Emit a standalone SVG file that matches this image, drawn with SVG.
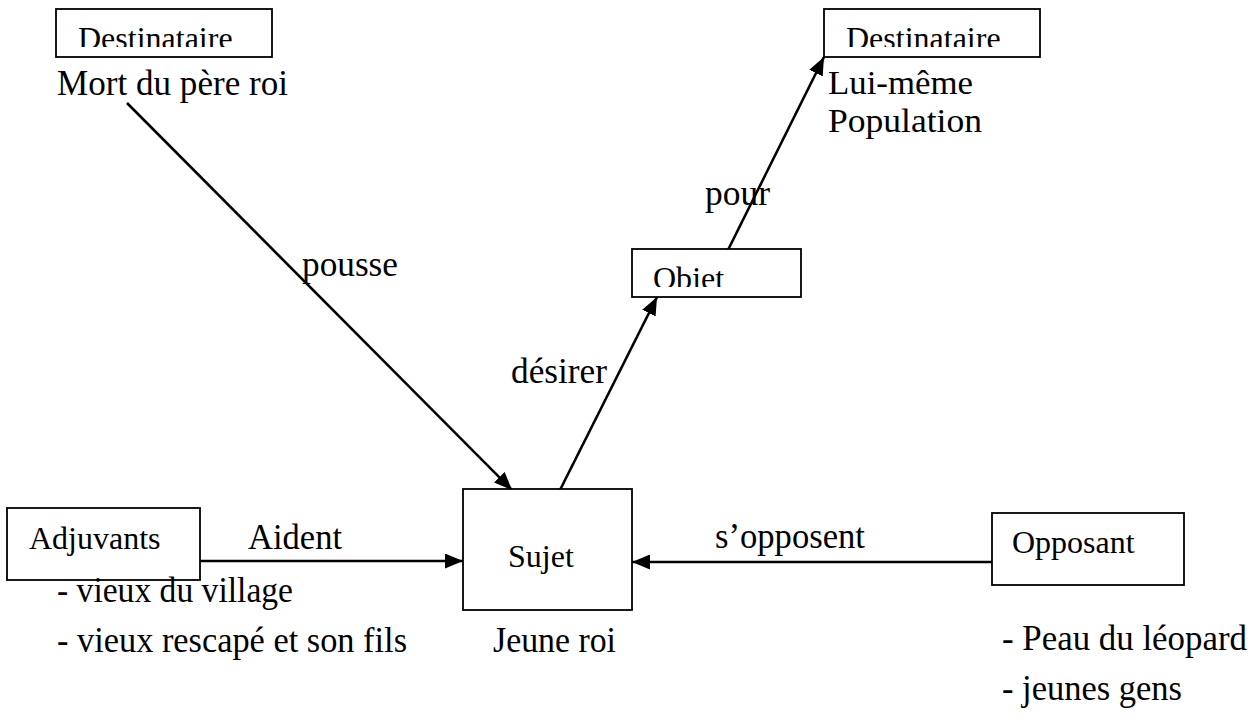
<svg xmlns="http://www.w3.org/2000/svg" width="1258" height="720" viewBox="0 0 1258 720">
<style>
.box{fill:#fff;stroke:#000;stroke-width:1.8}
.lbl{font-family:"Liberation Serif","Times New Roman",serif;font-size:32px;fill:#000}
.txt{font-family:"Liberation Serif","Times New Roman",serif;font-size:36px;fill:#000}
.tight{font-size:33px}
.con{stroke:#000;stroke-width:2.6;fill:none}
</style>
<defs>
<marker id="ah" markerUnits="userSpaceOnUse" markerWidth="19" markerHeight="15" refX="18" refY="7.5" orient="auto">
<path d="M0,0 L18,7.5 L0,15 z" fill="#000"/>
</marker>
<clipPath id="c1"><rect x="56" y="9" width="216" height="38"/></clipPath>
<clipPath id="c2"><rect x="824" y="9" width="216" height="38"/></clipPath>
<clipPath id="c3"><rect x="632" y="249" width="169" height="38"/></clipPath>
</defs>
<rect width="1258" height="720" fill="#fff"/>
<g id="connectors">
<line class="con" x1="127" y1="103" x2="512" y2="490" marker-end="url(#ah)"/>
<line class="con" x1="560" y1="490" x2="657" y2="297" marker-end="url(#ah)"/>
<line class="con" x1="728" y1="250" x2="824" y2="57" marker-end="url(#ah)"/>
<line class="con" x1="200" y1="561" x2="463" y2="561" marker-end="url(#ah)"/>
<line class="con" x1="992" y1="562" x2="632" y2="562" marker-end="url(#ah)"/>
<text class="txt" x="302" y="276" textLength="96" lengthAdjust="spacingAndGlyphs">pousse</text>
<text class="txt" x="511" y="383" textLength="96" lengthAdjust="spacingAndGlyphs">désirer</text>
<text class="txt" x="705" y="205" textLength="65" lengthAdjust="spacingAndGlyphs">pour</text>
<text class="txt" x="248" y="549" textLength="94" lengthAdjust="spacingAndGlyphs">Aident</text>
<text class="txt" x="715" y="548" textLength="150" lengthAdjust="spacingAndGlyphs">s’opposent</text>
</g>
<g id="destinataire1">
<rect class="box" x="56" y="9" width="216" height="48"/>
<text class="lbl" x="78" y="49" clip-path="url(#c1)">Destinataire</text>
<text class="txt" x="57" y="95" textLength="231" lengthAdjust="spacingAndGlyphs">Mort du père roi</text>
</g>
<g id="destinataire2">
<rect class="box" x="824" y="9" width="216" height="48"/>
<text class="lbl" x="846" y="49" clip-path="url(#c2)">Destinataire</text>
<text class="txt tight" x="828" y="94" textLength="145" lengthAdjust="spacingAndGlyphs">Lui-même</text>
<text class="txt tight" x="828" y="132" textLength="154" lengthAdjust="spacingAndGlyphs">Population</text>
</g>
<g id="objet">
<rect class="box" x="632" y="249" width="169" height="48"/>
<text class="lbl" x="653" y="289" clip-path="url(#c3)">Objet</text>
</g>
<g id="sujet">
<rect class="box" x="463" y="489" width="169" height="121"/>
<text class="lbl" x="508" y="567">Sujet</text>
<text class="txt" x="493" y="652" textLength="123" lengthAdjust="spacingAndGlyphs">Jeune roi</text>
</g>
<g id="adjuvants">
<rect class="box" x="7" y="508" width="193" height="72"/>
<text class="lbl" x="29" y="549">Adjuvants</text>
<text class="txt" x="57" y="602" textLength="236" lengthAdjust="spacingAndGlyphs">- vieux du village</text>
<text class="txt" x="57" y="652" textLength="350" lengthAdjust="spacingAndGlyphs">- vieux rescapé et son fils</text>
</g>
<g id="opposant">
<rect class="box" x="992" y="513" width="192" height="72"/>
<text class="lbl" x="1012" y="553">Opposant</text>
<text class="txt" x="1002" y="650" textLength="245" lengthAdjust="spacingAndGlyphs">- Peau du léopard</text>
<text class="txt" x="1002" y="700" textLength="180" lengthAdjust="spacingAndGlyphs">- jeunes gens</text>
</g>
</svg>
